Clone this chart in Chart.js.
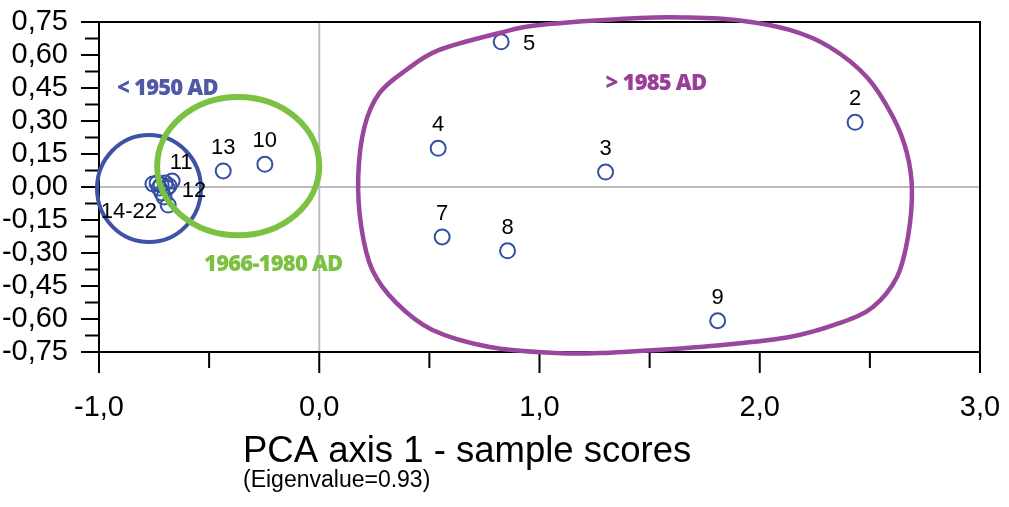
<!DOCTYPE html>
<html>
<head>
<meta charset="utf-8">
<title>PCA sample scores</title>
<script src="https://cdn.jsdelivr.net/npm/chart.js@4.4.1/dist/chart.umd.min.js"></script>
<style>
    html, body { margin: 0; padding: 0; background: #fff; }
    canvas { display: block; }
</style>
</head>
<body>
<canvas id="pcaChart" width="1009" height="507"></canvas>
<script>
// Sample scores on PCA axis 1 (x) and PCA axis 2 (y)
const sampleLabels = ['5', '4', '3', '7', '8', '2', '9', '13', '10',
    '11', '12', '14-22', '', '', '', '', '', '', '', ''];
const axis1Scores = [0.826, 0.540, 1.300, 0.558, 0.855, 2.433, 1.809, -0.436, -0.247,
    -0.668, -0.682, -0.755, -0.736, -0.718, -0.700, -0.691, -0.727, -0.714, -0.705, -0.686];
const axis2Scores = [0.660, 0.176, 0.068, -0.227, -0.290, 0.294, -0.608, 0.073, 0.103,
    0.027, 0.005, 0.014, 0.018, 0.009, 0.018, -0.005, -0.005, -0.027, -0.045, -0.082];

// Axis ranges
const xRange = [-1, 3];
const yRange = [-0.75, 0.75];

// Group outlines (data units)
const groupNames = ['< 1950 AD', '1966-1980 AD', '> 1985 AD'];
const oldGroupEllipse = [-0.773, -0.007, 0.236, 0.243];   // cx, cy, rx, ry
const midGroupEllipse = [-0.368, 0.095, 0.368, 0.314];
const recentOutlineX = [0.177, 0.205, 0.273, 0.395, 0.545, 0.818, 1.000, 1.455, 1.682, 1.909,
    2.136, 2.318, 2.486, 2.605, 2.668, 2.691, 2.673, 2.623, 2.514, 2.364,
    2.136, 1.832, 1.532, 1.273, 1.077, 0.773, 0.514, 0.350, 0.241, 0.191];
const recentOutlineY = [0.045, 0.273, 0.427, 0.532, 0.623, 0.700, 0.736, 0.768, 0.770, 0.757,
    0.714, 0.636, 0.500, 0.318, 0.155, -0.014, -0.227, -0.409, -0.545, -0.618,
    -0.682, -0.718, -0.741, -0.755, -0.755, -0.727, -0.650, -0.527, -0.377, -0.182];
const groupNameX = [-0.918, -0.523, 1.300];
const groupNameY = [0.445, -0.355, 0.470];

// styles
const pointBlue = '#3450a2';
const groupColors = ['#3d53a5', '#7cc242', '#9a469c'];
const groupTextColors = ['#5058a8', '#7cc242', '#9a3f98'];
const groupLineWidths = [4, 6, 4.5];
// pixel offsets for number labels, default is centred above the point
const labelOffsets = { 0: [28, 2], 9: [9, -18], 10: [25, 5], 11: [-24, 28] };

function fmt(v, d) {
    if (Math.abs(v) < 1e-9) v = 0;
    return v.toFixed(d).replace('.', ',');
}

function isMajorY(v) { return Math.round(v / 0.075) % 2 === 0; }
function isMajorX(v) { return Math.abs(v - Math.round(v)) < 1e-6; }

const points = axis1Scores.map((x, i) => ({ x: x, y: axis2Scores[i] }));

const frameAndTicks = {
    id: 'frameAndTicks',
    beforeDatasetsDraw(chart) {
        const { ctx, chartArea: a, scales: { x, y } } = chart;
        ctx.save();
        ctx.lineCap = 'butt';
        // zero lines
        ctx.strokeStyle = '#bdbdbd';
        ctx.lineWidth = 2;
        const x0 = x.getPixelForValue(0), y0 = y.getPixelForValue(0);
        ctx.beginPath();
        ctx.moveTo(x0, a.top); ctx.lineTo(x0, a.bottom);
        ctx.moveTo(a.left, y0); ctx.lineTo(a.right, y0);
        ctx.stroke();

        // frame
        ctx.strokeStyle = '#000';
        ctx.lineWidth = 2;
        ctx.strokeRect(a.left, a.top, a.right - a.left, a.bottom - a.top);

        // tick marks
        ctx.beginPath();
        x.ticks.forEach(t => {
            const px = x.getPixelForValue(t.value);
            const len = isMajorX(t.value) ? 21 : 16;
            ctx.moveTo(px, a.bottom); ctx.lineTo(px, a.bottom + len);
        });
        y.ticks.forEach(t => {
            const py = y.getPixelForValue(t.value);
            const len = isMajorY(t.value) ? 18 : 14;
            ctx.moveTo(a.left, py); ctx.lineTo(a.left - len, py);
        });
        ctx.stroke();
        ctx.restore();
    }
};

const groupOutlines = {
    id: 'groupOutlines',
    afterDatasetsDraw(chart) {
        const { ctx, scales: { x, y } } = chart;
        ctx.save();

        // ellipses for the two older groups
        [oldGroupEllipse, midGroupEllipse].forEach((e, i) => {
            const cx = x.getPixelForValue(e[0]);
            const cy = y.getPixelForValue(e[1]);
            const rx = Math.abs(x.getPixelForValue(e[0] + e[2]) - cx);
            const ry = Math.abs(y.getPixelForValue(e[1] + e[3]) - cy);
            ctx.beginPath();
            ctx.ellipse(cx, cy, rx, ry, 0, 0, Math.PI * 2);
            ctx.strokeStyle = groupColors[i];
            ctx.lineWidth = groupLineWidths[i];
            ctx.stroke();
        });

        // closed smooth outline for the recent group
        const pts = recentOutlineX.map((v, i) => [x.getPixelForValue(v), y.getPixelForValue(recentOutlineY[i])]);
        const n = pts.length;
        ctx.beginPath();
        ctx.moveTo(pts[0][0], pts[0][1]);
        for (let i = 0; i < n; i++) {
            const p0 = pts[(i - 1 + n) % n], p1 = pts[i], p2 = pts[(i + 1) % n], p3 = pts[(i + 2) % n];
            ctx.bezierCurveTo(
                p1[0] + (p2[0] - p0[0]) / 6, p1[1] + (p2[1] - p0[1]) / 6,
                p2[0] - (p3[0] - p1[0]) / 6, p2[1] - (p3[1] - p1[1]) / 6,
                p2[0], p2[1]);
        }
        ctx.closePath();
        ctx.strokeStyle = groupColors[2];
        ctx.lineWidth = groupLineWidths[2];
        ctx.stroke();

        // group names
        ctx.font = "800 22px 'Open Sans'";
        ctx.letterSpacing = '-0.8px';
        ctx.textBaseline = 'middle';
        ctx.textAlign = 'left';
        groupNames.forEach((name, i) => {
            ctx.fillStyle = groupTextColors[i];
            ctx.fillText(name, x.getPixelForValue(groupNameX[i]), y.getPixelForValue(groupNameY[i]));
        });
        ctx.letterSpacing = '0px';

        // sample numbers
        const meta = chart.getDatasetMeta(0);
        ctx.font = "22px 'Liberation Sans'";
        ctx.fillStyle = '#000';
        ctx.textAlign = 'center';
        meta.data.forEach((el, i) => {
            if (!sampleLabels[i]) return;
            const off = labelOffsets[i] || [0, -23];
            ctx.fillText(sampleLabels[i], el.x + off[0], el.y + off[1]);
        });

        // axis title
        ctx.textAlign = 'left';
        ctx.textBaseline = 'alphabetic';
        ctx.font = "36.5px 'Liberation Sans'";
        ctx.fillText('PCA axis 1 - sample scores', 243, 462);
        ctx.font = "23px 'Liberation Sans'";
        ctx.fillText('(Eigenvalue=0.93)', 243, 487);
        ctx.restore();
    }
};

new Chart(document.getElementById('pcaChart'), {
    type: 'scatter',
    data: {
        datasets: [{
            data: points,
            pointStyle: 'circle',
            pointRadius: 7.5,
            pointBorderWidth: 2,
            borderColor: pointBlue,
            backgroundColor: 'rgba(0,0,0,0)'
        }]
    },
    options: {
        responsive: false,
        animation: false,
        layout: { padding: { top: 22, right: 29, left: 0, bottom: 0 } },
        plugins: { legend: { display: false }, tooltip: { enabled: false } },
        scales: {
            x: {
                type: 'linear',
                min: xRange[0],
                max: xRange[1],
                grid: { display: false },
                border: { display: false },
                afterFit: s => { s.height = 155; s.paddingLeft = 0; s.paddingRight = 0; },
                ticks: {
                    stepSize: 0.5,
                    autoSkip: false,
                    maxRotation: 0,
                    padding: 31,
                    color: '#000',
                    font: { family: 'Liberation Sans', size: 29 },
                    callback: v => isMajorX(v) ? fmt(v, 1) : ''
                }
            },
            y: {
                type: 'linear',
                min: yRange[0],
                max: yRange[1],
                grid: { display: false },
                border: { display: false },
                afterFit: s => { s.width = 99; s.paddingTop = 0; s.paddingBottom = 0; },
                ticks: {
                    stepSize: 0.075,
                    autoSkip: false,
                    padding: 23,
                    color: '#000',
                    font: { family: 'Liberation Sans', size: 29 },
                    callback: v => isMajorY(v) ? fmt(v, 2) : ''
                }
            }
        }
    },
    plugins: [frameAndTicks, groupOutlines]
});
</script>
</body>
</html>
